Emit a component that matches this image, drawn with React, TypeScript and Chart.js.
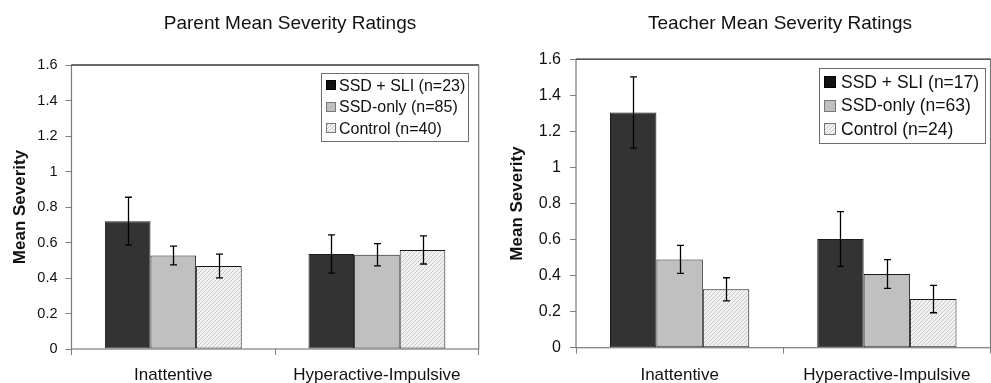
import React, { useEffect, useRef } from 'react';
import { Chart, registerables } from 'chart.js';

Chart.register(...registerables);

const FONT = "Arial, 'Liberation Sans', Helvetica, sans-serif";

// ---------- data ----------
const categories = ['Inattentive', 'Hyperactive-Impulsive'];
const yAxisTitle = 'Mean Severity';
const yTickValues = [0, 0.2, 0.4, 0.6, 0.8, 1, 1.2, 1.4, 1.6];

const parentTitle = 'Parent Mean Severity Ratings';
const parentLegend = ['SSD + SLI (n=23)', 'SSD-only (n=85)', 'Control (n=40)'];
const parentSsdSli = [0.72, 0.535];
const parentSsdSliErr = [0.135, 0.108];
const parentSsdOnly = [0.527, 0.531];
const parentSsdOnlyErr = [0.053, 0.063];
const parentControl = [0.468, 0.558];
const parentControlErr = [0.067, 0.079];

const teacherTitle = 'Teacher Mean Severity Ratings';
const teacherLegend = ['SSD + SLI (n=17)', 'SSD-only (n=63)', 'Control (n=24)'];
const teacherSsdSli = [1.305, 0.603];
const teacherSsdSliErr = [0.198, 0.152];
const teacherSsdOnly = [0.49, 0.409];
const teacherSsdOnlyErr = [0.078, 0.08];
const teacherControl = [0.324, 0.27];
const teacherControlErr = [0.064, 0.076];

// ---------- helpers ----------
function makeHatch(): CanvasPattern | string {
  const c = document.createElement('canvas');
  c.width = 4;
  c.height = 4;
  const g = c.getContext('2d');
  if (!g) return '#eeeeee';
  g.fillStyle = '#f2f2f2';
  g.fillRect(0, 0, 4, 4);
  g.strokeStyle = '#bcbcbc';
  g.lineWidth = 0.8;
  g.beginPath();
  g.moveTo(0, 4);
  g.lineTo(4, 0);
  g.moveTo(-1, 1);
  g.lineTo(1, -1);
  g.moveTo(3, 5);
  g.lineTo(5, 3);
  g.stroke();
  return g.createPattern(c, 'repeat') || '#eeeeee';
}

type Params = {
  title: string;
  titleX: number;
  titleY: number;
  titleSize: number;
  legend: string[];
  series: number[][];
  errors: number[][];
  padTop: number;
  padRight: number;
  yAxisWidth: number;
  xAxisHeight: number;
  yTickSize: number;
  yTickPadding: number;
  yTitlePad: number;
  xTickPadding: number;
  leg: { size: number; rowH: number; padY: number; padL: number; swatch: number; gap: number; padR: number; insetR: number; insetT: number };
};

function buildChart(canvas: HTMLCanvasElement, p: Params) {
  const fills: any[] = ['#333333', '#c0c0c0', makeHatch()];
  const datasets = p.series.map((data, i) => ({
    label: p.legend[i],
    data,
    errors: p.errors[i],
    backgroundColor: fills[i],
    borderColor: '#1a1a1a',
    borderWidth: 1,
    borderSkipped: false,
    categoryPercentage: 0.672,
    barPercentage: 1,
  }));

  const errorBars = {
    id: 'errorBars',
    afterDatasetsDraw(chart: any) {
      const { ctx } = chart;
      const yScale = chart.scales.y;
      ctx.save();
      ctx.strokeStyle = '#000';
      ctx.lineWidth = 1.3;
      chart.data.datasets.forEach((ds: any, i: number) => {
        const meta = chart.getDatasetMeta(i);
        meta.data.forEach((el: any, j: number) => {
          const v = ds.data[j];
          const e = ds.errors[j];
          const x = Math.round(el.x) + 0.5;
          const yt = yScale.getPixelForValue(v + e);
          const yb = yScale.getPixelForValue(v - e);
          ctx.beginPath();
          ctx.moveTo(x, yt);
          ctx.lineTo(x, yb);
          ctx.moveTo(x - 3.5, yt);
          ctx.lineTo(x + 3.5, yt);
          ctx.moveTo(x - 3.5, yb);
          ctx.lineTo(x + 3.5, yb);
          ctx.stroke();
        });
      });
      ctx.restore();
    },
  };

  const frame = {
    id: 'frame',
    afterDatasetsDraw(chart: any) {
      const { ctx, chartArea: a } = chart;
      ctx.save();
      ctx.strokeStyle = '#7a7a7a';
      ctx.lineWidth = 1.2;
      ctx.strokeRect(a.left, a.top, a.right - a.left, a.bottom - a.top);
      ctx.strokeStyle = '#555';
      ctx.lineWidth = 1.6;
      ctx.beginPath();
      ctx.moveTo(a.left, a.top);
      ctx.lineTo(a.right, a.top);
      ctx.stroke();
      ctx.restore();
    },
  };

  const boxLegend = {
    id: 'boxLegend',
    afterDraw(chart: any) {
      const { ctx, chartArea: a } = chart;
      const L = p.leg;
      ctx.save();
      ctx.font = `${L.size}px ${FONT}`;
      const labels = chart.data.datasets.map((d: any) => d.label);
      const textW = Math.max(...labels.map((t: string) => ctx.measureText(t).width));
      const w = L.padL + L.swatch + L.gap + textW + L.padR;
      const h = L.padY * 2 + L.rowH * labels.length;
      const x = Math.round(a.right - L.insetR - w);
      const y = Math.round(a.top + L.insetT);
      ctx.fillStyle = '#fff';
      ctx.fillRect(x, y, w, h);
      ctx.strokeStyle = '#6e6e6e';
      ctx.lineWidth = 1;
      ctx.strokeRect(x + 0.5, y + 0.5, Math.round(w), Math.round(h));
      chart.data.datasets.forEach((ds: any, i: number) => {
        const cy = y + L.padY + L.rowH * (i + 0.5);
        const sx = x + L.padL;
        const sy = Math.round(cy - L.swatch / 2);
        ctx.fillStyle = i === 0 ? '#111' : ds.backgroundColor;
        ctx.fillRect(sx, sy, L.swatch, L.swatch);
        ctx.strokeStyle = i === 0 ? '#000' : '#777';
        ctx.strokeRect(sx + 0.5, sy + 0.5, L.swatch - 1, L.swatch - 1);
        ctx.fillStyle = '#111';
        ctx.textAlign = 'left';
        ctx.textBaseline = 'middle';
        ctx.fillText(ds.label, sx + L.swatch + L.gap, cy + 1);
      });
      ctx.restore();
    },
  };

  const heading = {
    id: 'heading',
    afterDraw(chart: any) {
      const { ctx } = chart;
      ctx.save();
      ctx.font = `${p.titleSize}px ${FONT}`;
      ctx.fillStyle = '#111';
      ctx.textAlign = 'center';
      ctx.textBaseline = 'alphabetic';
      ctx.fillText(p.title, p.titleX, p.titleY);
      ctx.restore();
    },
  };

  return new Chart(canvas, {
    type: 'bar',
    data: { labels: categories, datasets: datasets as any },
    plugins: [errorBars, frame, boxLegend, heading],
    options: {
      animation: false,
      responsive: false,
      maintainAspectRatio: false,
      events: [],
      layout: { padding: { left: 0, right: p.padRight, top: p.padTop, bottom: 0 } },
      plugins: {
        legend: { display: false },
        title: { display: false },
        tooltip: { enabled: false },
      },
      scales: {
        x: {
          grid: { display: true, drawOnChartArea: false, drawTicks: true, tickLength: 6, color: '#808080', offset: true },
          border: { display: false },
          ticks: { font: { family: FONT, size: 17 }, color: '#111', padding: p.xTickPadding, maxRotation: 0, autoSkip: false },
          afterFit: (s: any) => {
            s.height = p.xAxisHeight;
          },
        },
        y: {
          min: 0,
          max: 1.6,
          afterBuildTicks: (s: any) => {
            s.ticks = yTickValues.map((v) => ({ value: v }));
          },
          grid: { display: true, drawOnChartArea: false, drawTicks: true, tickLength: 6, color: '#808080' },
          border: { display: false },
          ticks: {
            font: { family: FONT, size: p.yTickSize },
            color: '#111',
            padding: p.yTickPadding,
            callback: (v: any) => String(v),
          },
          title: {
            display: true,
            text: yAxisTitle,
            font: { family: FONT, size: 17, weight: 'bold' },
            color: '#111',
            padding: { top: p.yTitlePad, bottom: 0 },
          },
          afterFit: (s: any) => {
            s.width = p.yAxisWidth;
          },
        },
      },
    } as any,
  });
}

const parentParams: Params = {
  title: parentTitle,
  titleX: 290,
  titleY: 29,
  titleSize: 19,
  legend: parentLegend,
  series: [parentSsdSli, parentSsdOnly, parentControl],
  errors: [parentSsdSliErr, parentSsdOnlyErr, parentControlErr],
  padTop: 65,
  padRight: 16.3,
  yAxisWidth: 71.5,
  xAxisHeight: 34,
  yTickSize: 14.5,
  yTickPadding: 8,
  yTitlePad: 9.8,
  xTickPadding: 10,
  leg: { size: 16, rowH: 21.5, padY: 1.5, padL: 5, swatch: 10, gap: 3, padR: 3, insetR: 10, insetT: 8 },
};

const teacherParams: Params = {
  title: teacherTitle,
  titleX: 285,
  titleY: 29,
  titleSize: 19,
  legend: teacherLegend,
  series: [teacherSsdSli, teacherSsdOnly, teacherControl],
  errors: [teacherSsdSliErr, teacherSsdOnlyErr, teacherControlErr],
  padTop: 59.3,
  padRight: 0.5,
  yAxisWidth: 81,
  xAxisHeight: 35.3,
  yTickSize: 16,
  yTickPadding: 9,
  yTitlePad: 12.3,
  xTickPadding: 11.4,
  leg: { size: 17.5, rowH: 23.5, padY: 2.25, padL: 5, swatch: 12, gap: 5, padR: 6, insetR: 5.6, insetT: 8.7 },
};

export default function App() {
  const leftRef = useRef<HTMLCanvasElement | null>(null);
  const rightRef = useRef<HTMLCanvasElement | null>(null);

  useEffect(() => {
    const charts: Chart[] = [];
    if (leftRef.current) charts.push(buildChart(leftRef.current, parentParams));
    if (rightRef.current) charts.push(buildChart(rightRef.current, teacherParams));
    return () => {
      charts.forEach((c) => c.destroy());
    };
  }, []);

  return (
    <div style={{ position: 'fixed', left: 0, top: 0, width: 991, height: 383, background: '#fff', overflow: 'hidden' }}>
      <canvas ref={leftRef} width={495} height={383} style={{ position: 'absolute', left: 0, top: 0 }} />
      <canvas ref={rightRef} width={496} height={383} style={{ position: 'absolute', left: 495, top: 0 }} />
    </div>
  );
}
